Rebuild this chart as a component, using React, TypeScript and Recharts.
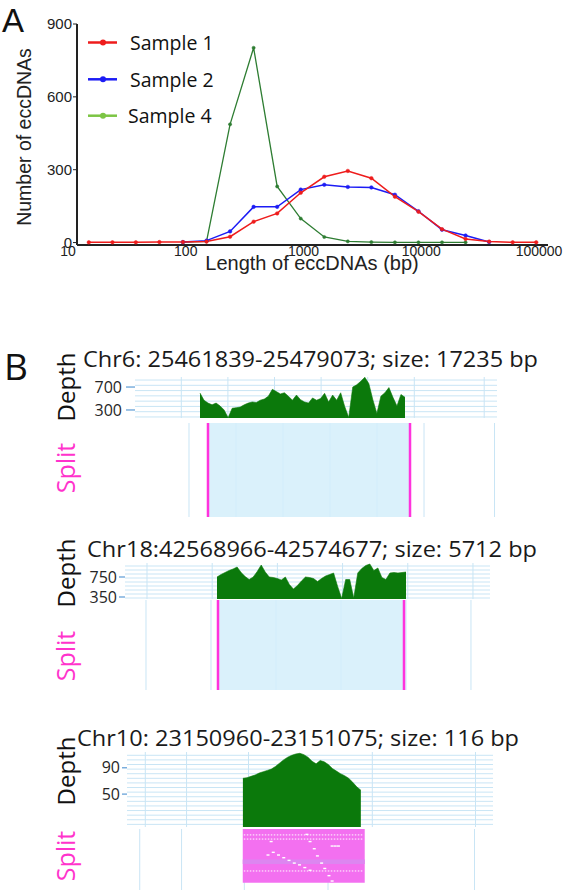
import React from 'react';
import {
  LineChart, Line, XAxis, YAxis, AreaChart, Area, CartesianGrid,
  ComposedChart, ReferenceLine, ReferenceArea, Scatter,
} from 'recharts';

// ---------------- Panel A data ----------------
const LENGTH_BP = [12.6, 20, 31.6, 50.1, 79.4, 125.9, 199.5, 316.2, 501.2, 794.3, 1258.9, 1995.3, 3162.3, 5011.9, 7943.3, 12589, 19953, 31623, 50119, 79433];
const SAMPLE1 = [1, 1, 1, 2, 2, 4, 24, 86, 120, 205, 271, 295, 265, 189, 127, 55, 15, 4, 1, 1];
const SAMPLE2 = [null, null, null, null, 2, 8, 46, 147, 147, 218, 238, 229, 227, 197, 129, 53, 29, 2, null, null];
const SAMPLE4 = [null, null, null, null, 2, 5, 487, 802, 231, 99, 23, 5, 2, 1, 1, 1, 1, null, null, null];
const SERIES_NAMES = ['Sample 1', 'Sample 2', 'Sample 4'];
const X_TICKS = [10, 100, 1000, 10000, 100000];
const Y_TICKS = [0, 300, 600, 900];

// ---------------- Panel B data ----------------
const REGION_TITLES = [
  'Chr6: 25461839-25479073; size: 17235 bp',
  'Chr18:42568966-42574677; size: 5712 bp',
  'Chr10: 23150960-23151075; size: 116 bp',
];
const REGION_SIZES = [17235, 5712, 116];
const DEPTH_CHR6 = [595, 470, 420, 390, 420, 370, 300, 165, 330, 340, 350, 390, 420, 440, 430, 470, 490, 540, 660, 620, 580, 600, 540, 470, 560, 480, 440, 420, 510, 470, 500, 590, 440, 560, 470, 600, 360, 170, 700, 740, 800, 870, 760, 480, 240, 540, 600, 690, 520, 370, 570, 520];
const DEPTH_CHR18 = [750, 800, 840, 880, 910, 950, 840, 760, 700, 750, 860, 990, 850, 750, 740, 720, 690, 750, 600, 510, 580, 670, 750, 740, 720, 660, 720, 770, 800, 830, 560, 320, 700, 700, 330, 830, 920, 980, 1010, 880, 930, 740, 700, 830, 840, 830, 840, 850];
const DEPTH_CHR10 = [74, 75, 77, 79, 82, 84, 86, 88, 92, 97, 102, 106, 109, 111, 112, 110, 106, 100, 96, 101, 99, 95, 89, 85, 81, 78, 74, 68, 61, 56];
const DEPTH_TICKS = [[300, 700], [350, 750], [50, 90]];
const SPLIT3_GAPS_POS = [61, 64, 68, 71, 75, 78, 82, 85, 29, 34, 39, 44, 49, 54, 59, 64, 85, 88, 91, 24, 27];
const SPLIT3_GAPS_ROW = [31, 27, 23, 19, 15, 12, 8, 5, 21, 19.5, 18, 16.5, 15, 14, 12.5, 11, 24.5, 24.5, 24.5, 19.5, 27];
const SPLIT3_DOTTED_ROWS = [30.7, 28.4, 10.6];

// ---------------- styles / layout ----------------
const FONT_A = '"Liberation Sans", Arial, sans-serif';
const FONT_B = '"Open Sans", "Noto Sans", sans-serif';
const RED = '#ee1c1c';
const BLUE = '#1c1cf5';
const DARK_GREEN = '#2e7d32';
const LEGEND_COLORS = [RED, BLUE, '#7cc544'];
const LINE_COLORS = [RED, BLUE, DARK_GREEN];
const DEPTH_GREEN = '#0b790b';
const MAGENTA = '#ff33dd';
const GRID_BLUE = '#c9e5f5';
const SPLIT_BLUE = '#d3eefa';
const PAD = 12;

const makeSteps = (start: number, step: number, count: number) => {
  const out: number[] = [];
  for (let i = 0; i < count; i++) out.push(start + i * step);
  return out;
};

const DEPTH_LAYOUT = [
  { l: 135, r: 497, t: 377, b: 418, yW: 60, xDomain: [-5465, 24970], yDomain: [160, 875], tickSize: 9, tickMargin: 4, hGrid: makeSteps(178, 92, 8), vGrid: makeSteps(-3531, 1959, 15) },
  { l: 125, r: 490, t: 563, b: 599, yW: 60, xDomain: [-2780, 8250], yDomain: [310, 1030], tickSize: 6, tickMargin: 2, hGrid: makeSteps(330, 80, 9), vGrid: makeSteps(-2115, 985, 11) },
  { l: 127, r: 493, t: 752, b: 827, yW: 60, xDomain: [-114, 246], yDomain: [0, 114], tickSize: 5, tickMargin: 2, hGrid: makeSteps(4, 7, 16), vGrid: makeSteps(-96, 20.3, 17) },
];
const SPLIT_LAYOUT = [
  { l: 130, r: 500, t: 423, b: 517, xDomain: [-6653, 24912], vGrid: makeSteps(-5630, 2005, 16) },
  { l: 123, r: 490, t: 600, b: 690, xDomain: [-2917, 8353], vGrid: makeSteps(-2211, 998, 11) },
  { l: 125, r: 493, t: 829, b: 890, xDomain: [-112, 238], vGrid: makeSteps(-98, 19.9, 17) },
];
const TITLE_POS = [
  { x: 83, y: 367, len: 455 },
  { x: 87, y: 557, len: 450 },
  { x: 77, y: 746, len: 442 },
];
const DEPTH_LABEL_Y = [387, 573, 771];
const SPLIT_LABEL_Y = [468, 656, 856];

const lineData = LENGTH_BP.map((len, i) => ({ len, s1: SAMPLE1[i], s2: SAMPLE2[i], s4: SAMPLE4[i] }));
const DEPTHS = [DEPTH_CHR6, DEPTH_CHR18, DEPTH_CHR10];
const depthData = DEPTHS.map((arr, k) => arr.map((v, i) => ({ pos: (i * REGION_SIZES[k]) / (arr.length - 1), depth: v })));
const splitData = REGION_SIZES.map((s) => [{ pos: 0, reads: 1 }, { pos: s, reads: 1 }]);
const split3Gaps = SPLIT3_GAPS_POS.map((p, i) => ({ pos: p, row: SPLIT3_GAPS_ROW[i] }));

function XTick(props: any) {
  const { x, y, payload } = props;
  return (
    <text x={x - 9} y={y} dy="0.71em" textAnchor="middle" fill="#222" fontSize={14} fontFamily={FONT_A}>
      {payload.value}
    </text>
  );
}

function PanelA() {
  return (
    <div style={{ position: 'absolute', left: 0, top: 0 }}>
      <LineChart width={566} height={290} data={lineData} margin={{ top: 24, right: 18, bottom: 0, left: 0 }}>
        <XAxis
          dataKey="len" type="number" scale="log" domain={[10, 100000]} ticks={X_TICKS} allowDataOverflow
          height={45} tickSize={0} tickMargin={1} interval={0}
          axisLine={{ stroke: '#222', strokeWidth: 2 }} tick={<XTick />}
        />
        <YAxis
          type="number" domain={[-10, 900]} ticks={Y_TICKS} width={77} interval={0}
          tickSize={4} tickMargin={1}
          axisLine={{ stroke: '#222', strokeWidth: 2 }} tickLine={{ stroke: '#222' }}
          tick={{ fill: '#222', fontSize: 15, fontFamily: FONT_A }}
        />
        <Line dataKey="s4" stroke={LINE_COLORS[2]} strokeWidth={1.3} dot={{ r: 1.6, fill: LINE_COLORS[2], stroke: LINE_COLORS[2], strokeWidth: 0.5 }} isAnimationActive={false} />
        <Line dataKey="s2" stroke={LINE_COLORS[1]} strokeWidth={1.5} dot={{ r: 1.8, fill: LINE_COLORS[1], stroke: LINE_COLORS[1], strokeWidth: 0.5 }} isAnimationActive={false} />
        <Line dataKey="s1" stroke={LINE_COLORS[0]} strokeWidth={1.5} dot={{ r: 1.8, fill: LINE_COLORS[0], stroke: LINE_COLORS[0], strokeWidth: 0.5 }} isAnimationActive={false} />
      </LineChart>
    </div>
  );
}

function DepthTrack({ k }: { k: number }) {
  const L = DEPTH_LAYOUT[k];
  const left = L.l - L.yW;
  return (
    <div style={{ position: 'absolute', left, top: L.t - PAD }}>
      <AreaChart width={L.r - left} height={L.b - L.t + 2 * PAD} data={depthData[k]} margin={{ top: PAD, right: 0, bottom: PAD, left: 0 }}>
        <CartesianGrid stroke={GRID_BLUE} strokeWidth={1} horizontalValues={L.hGrid} verticalValues={L.vGrid} />
        <XAxis dataKey="pos" type="number" domain={L.xDomain} allowDataOverflow hide />
        <YAxis
          type="number" domain={L.yDomain} allowDataOverflow ticks={DEPTH_TICKS[k]} interval={0} width={L.yW}
          axisLine={false} tickSize={L.tickSize} tickMargin={L.tickMargin}
          tickLine={{ stroke: '#5b9bd5', strokeWidth: 1.2 }}
          tick={{ fill: '#262626', fontSize: 16, fontFamily: FONT_B }}
        />
        <Area dataKey="depth" type="linear" stroke={DEPTH_GREEN} strokeWidth={0.6} fill={DEPTH_GREEN} fillOpacity={1} dot={false} activeDot={false} isAnimationActive={false} />
      </AreaChart>
    </div>
  );
}

function SplitTrack({ k }: { k: number }) {
  const L = SPLIT_LAYOUT[k];
  const size = REGION_SIZES[k];
  const last = k === 2;
  return (
    <div style={{ position: 'absolute', left: L.l, top: L.t }}>
      <ComposedChart width={L.r - L.l} height={L.b - L.t} data={splitData[k]} margin={{ top: 0, right: 0, bottom: 0, left: 0 }}>
        <CartesianGrid stroke={GRID_BLUE} strokeWidth={1} horizontal={false} verticalValues={L.vGrid} />
        <XAxis dataKey="pos" type="number" domain={L.xDomain} allowDataOverflow hide />
        {last ? (
          <YAxis type="number" domain={[0, 34]} allowDataOverflow hide />
        ) : (
          <YAxis type="number" domain={[0, 1]} allowDataOverflow hide />
        )}
        {last ? (
          <Area dataKey={() => 34} baseValue={4} type="linear" stroke="none" fill="#f370f0" fillOpacity={1} dot={false} activeDot={false} isAnimationActive={false} />
        ) : (
          <Area dataKey="reads" type="linear" stroke="none" fill={SPLIT_BLUE} fillOpacity={0.85} dot={false} activeDot={false} isAnimationActive={false} />
        )}
        {last && <ReferenceArea x1={0} x2={size} y1={14.5} y2={17} fill="#dc86f0" fillOpacity={1} stroke="none" ifOverflow="visible" />}
        {last && SPLIT3_DOTTED_ROWS.map((r) => (
          <ReferenceLine key={r} segment={[{ x: 1, y: r }, { x: size - 2, y: r }]} stroke="#ffffff" strokeWidth={1} strokeDasharray="1.5 1.5" ifOverflow="visible" />
        ))}
        {last && (
          <Scatter
            data={split3Gaps} dataKey="row" isAnimationActive={false}
            shape={(p: any) => <rect x={p.cx - 1.5} y={p.cy - 0.7} width={3} height={1.4} fill="#ffffff" />}
          />
        )}
        {!last && <ReferenceLine x={0} stroke={MAGENTA} strokeWidth={2.5} ifOverflow="visible" />}
        {!last && <ReferenceLine x={size} stroke={MAGENTA} strokeWidth={2.5} ifOverflow="visible" />}
      </ComposedChart>
    </div>
  );
}

function Overlay() {
  return (
    <svg width={566} height={893} style={{ position: 'absolute', left: 0, top: 0, pointerEvents: 'none' }}>
      <text x={2} y={32} fontSize={33} fontFamily={FONT_A} fill="#111">A</text>
      <text x={24} y={137} transform="rotate(-90 24 137)" textAnchor="middle" dominantBaseline="central" fontSize={19.5} fontFamily={FONT_A} fill="#222">Number of eccDNAs</text>
      <text x={312} y={270} textAnchor="middle" fontSize={20} fontFamily={FONT_A} fill="#222">Length of eccDNAs (bp)</text>
      {SERIES_NAMES.map((name, i) => {
        const ly = [42.5, 79.3, 115.7][i];
        return (
          <g key={name}>
            <line x1={88} x2={117} y1={ly} y2={ly} stroke={LEGEND_COLORS[i]} strokeWidth={2.5} />
            <circle cx={103} cy={ly} r={3} fill={LEGEND_COLORS[i]} />
            <text x={i === 2 ? 128 : 130} y={ly + 7.5} fontSize={19.5} fontFamily={FONT_B} fill="#111">{name}</text>
          </g>
        );
      })}
      <text x={4} y={380} fontSize={37} fontFamily={FONT_B} fill="#111">B</text>
      {REGION_TITLES.map((t, i) => (
        <text key={t} x={TITLE_POS[i].x} y={TITLE_POS[i].y} fontSize={21} fontFamily={FONT_B} fill="#1a1a1a" textLength={TITLE_POS[i].len} lengthAdjust="spacingAndGlyphs">{t}</text>
      ))}
      {DEPTH_LABEL_Y.map((y) => (
        <text key={'d' + y} x={65} y={y} transform={`rotate(-90 65 ${y})`} textAnchor="middle" dominantBaseline="central" fontSize={24} fontFamily={FONT_B} fill="#111">Depth</text>
      ))}
      {SPLIT_LABEL_Y.map((y) => (
        <text key={'s' + y} x={65} y={y} transform={`rotate(-90 65 ${y})`} textAnchor="middle" dominantBaseline="central" fontSize={25} fontFamily={FONT_B} fill="#ff33cc">Split</text>
      ))}
    </svg>
  );
}

export default function App() {
  return (
    <div style={{ position: 'absolute', left: 0, top: 0, width: 566, height: 893, background: '#fff', overflow: 'hidden' }}>
      <PanelA />
      {[0, 1, 2].map((k) => <DepthTrack key={'depth' + k} k={k} />)}
      {[0, 1, 2].map((k) => <SplitTrack key={'split' + k} k={k} />)}
      <Overlay />
    </div>
  );
}
